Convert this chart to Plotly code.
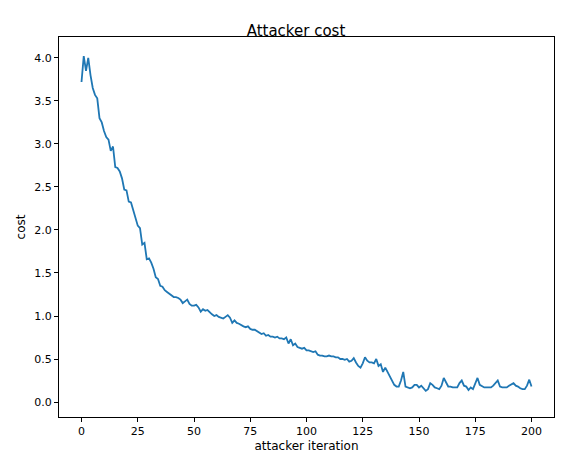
import plotly.graph_objects as go

cost = [3.72,4.02,3.85,4.0,3.8,3.65,3.57,3.53,3.3,3.25,3.15,3.08,3.05,2.92,2.97,2.73,2.72,2.68,2.6,2.47,
2.46,2.33,2.32,2.22,2.12,2.05,2.02,1.83,1.85,1.66,1.67,1.62,1.55,1.45,1.43,1.35,1.34,1.3,1.28,1.26,
1.23,1.22,1.22,1.21,1.19,1.15,1.17,1.19,1.14,1.12,1.12,1.13,1.1,1.05,1.08,1.06,1.07,1.04,1.02,1.0,
1.01,0.99,0.98,0.97,0.99,1.01,0.98,0.92,0.95,0.92,0.91,0.89,0.88,0.87,0.88,0.85,0.84,0.84,0.82,0.81,
0.79,0.80,0.77,0.78,0.76,0.76,0.75,0.76,0.74,0.74,0.73,0.75,0.68,0.73,0.66,0.68,0.64,0.63,0.62,0.63,
0.6,0.6,0.59,0.58,0.59,0.55,0.54,0.54,0.53,0.53,0.54,0.53,0.53,0.52,0.52,0.5,0.5,0.49,0.5,0.47,
0.48,0.51,0.46,0.42,0.4,0.45,0.52,0.48,0.46,0.46,0.45,0.5,0.42,0.44,0.35,0.4,0.35,0.3,0.25,0.2,
0.18,0.18,0.25,0.35,0.18,0.17,0.16,0.17,0.2,0.2,0.17,0.19,0.16,0.13,0.15,0.22,0.2,0.17,0.16,0.15,
0.19,0.28,0.23,0.18,0.18,0.17,0.17,0.17,0.22,0.25,0.19,0.18,0.14,0.17,0.15,0.22,0.28,0.2,0.18,0.17,
0.17,0.17,0.17,0.19,0.22,0.25,0.18,0.17,0.17,0.17,0.19,0.21,0.22,0.19,0.18,0.16,0.15,0.15,0.19,0.26,0.18]
iters = list(range(len(cost)))

fig = go.Figure(go.Scatter(x=iters, y=cost, mode="lines", line=dict(color="#1f77b4", width=1.8)))
ax = dict(showgrid=False, zeroline=False, showline=True, mirror=True, linecolor="black", linewidth=1,
          ticks="outside", ticklen=4, tickcolor="black", tickfont=dict(size=11, color="black"))
fig.update_layout(
    width=576, height=455, plot_bgcolor="white", paper_bgcolor="white",
    margin=dict(l=46, r=30, t=29, b=45),
    font=dict(family="DejaVu Sans", color="black"),
    title=dict(text="Attacker cost", x=0.5, xanchor="center", y=0.962, font=dict(size=15)),
    showlegend=False,
    xaxis=dict(ax, range=[-10, 210], tickvals=[0,25,50,75,100,125,150,175,200],
               title=dict(text="attacker iteration", font=dict(size=12), standoff=4)),
    yaxis=dict(ax, range=[-0.174, 4.243], tickvals=[0,0.5,1,1.5,2,2.5,3,3.5,4], tickformat=".1f",
               title=dict(text="cost", font=dict(size=12), standoff=6)),
)
fig.write_html("out.html")
